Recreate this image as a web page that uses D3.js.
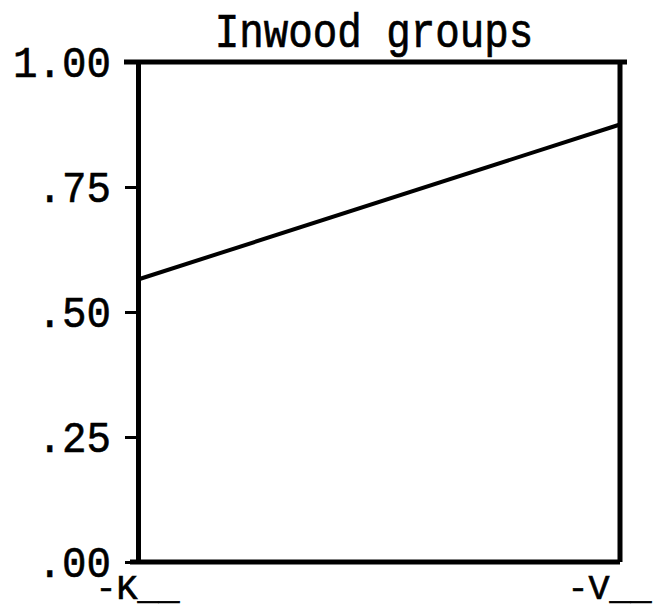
<!DOCTYPE html>
<html>
<head>
<meta charset="utf-8">
<script src="https://cdn.jsdelivr.net/npm/d3@7"></script>
<style>
  html, body { margin: 0; padding: 0; background: #fff; }
  svg { display: block; }
  text { font-family: "Liberation Mono", "DejaVu Sans Mono", monospace; fill: #000; }
</style>
</head>
<body>
<svg id="chart" width="653" height="609"></svg>
<script>
// ---- data ----
const titleText = "Inwood groups";
const categories = ["-K", "-V"];
const values = [0.565, 0.875];
const yTickValues = [0, 0.25, 0.5, 0.75, 1.0];
const yTickLabels = [".00", ".25", ".50", ".75", "1.00"];
const xLabelSuffix = "__";

// ---- layout ----
const W = 653, H = 609;
const mLeft = 138, mRight = 620, mTop = 62, mBottom = 562;

const svg = d3.select("#chart");

const x = d3.scalePoint().domain(categories).range([mLeft, mRight]);
const y = d3.scaleLinear().domain([0, 1]).range([mBottom, mTop]);

// title
svg.append("text")
  .attr("x", (215 + 533) / 2)
  .attr("y", 47)
  .attr("text-anchor", "middle")
  .attr("font-size", 48)
  .attr("textLength", titleText.length * 24.5)
  .attr("lengthAdjust", "spacingAndGlyphs")
  .attr("stroke", "#000").attr("stroke-width", 0.7)
  .text(titleText);

// y axis
const yAxis = d3.axisLeft(y)
  .tickValues(yTickValues)
  .tickFormat((d, i) => yTickLabels[i])
  .tickSize(13)
  .tickSizeOuter(0)
  .tickPadding(14);

const gy = svg.append("g")
  .attr("transform", `translate(${mLeft},0)`)
  .call(yAxis);
gy.select(".domain").attr("stroke", "#000").attr("stroke-width", 5);
gy.selectAll(".tick line").attr("stroke", "#000").attr("stroke-width", 3);
gy.selectAll(".tick text")
  .attr("font-size", 44)
  .attr("font-family", "Liberation Mono, DejaVu Sans Mono, monospace")
  .attr("textLength", (d, i) => yTickLabels[i].length * 24.5)
  .attr("lengthAdjust", "spacingAndGlyphs")
  .attr("stroke", "#000").attr("stroke-width", 0.6)
  .attr("dy", "0.34em");

// x axis (labels only)
const xAxis = d3.axisBottom(x).tickSize(0).tickSizeOuter(0).tickFormat(d => d + xLabelSuffix);
const gx = svg.append("g")
  .attr("transform", `translate(0,${mBottom})`)
  .call(xAxis);
gx.select(".domain").remove();
const nCat = categories.length;
gx.selectAll(".tick text")
  .attr("font-size", 35)
  .attr("font-family", "Liberation Mono, DejaVu Sans Mono, monospace")
  .attr("text-anchor", (d, i) => i === nCat - 1 ? "end" : "start")
  .attr("x", (d, i) => i === nCat - 1 ? (W - 2) - x(d) : -43)
  .attr("y", 37)
  .attr("dy", 0)
  .attr("stroke", "#000").attr("stroke-width", 0.7);

// frame: top, bottom, right
const frame = svg.append("g").attr("stroke", "#000").attr("stroke-width", 5).attr("fill", "none");
frame.append("line").attr("x1", mLeft - 14).attr("x2", mRight + 7).attr("y1", y(1)).attr("y2", y(1));
frame.append("line").attr("x1", mLeft - 8).attr("x2", mRight).attr("y1", y(0)).attr("y2", y(0));
frame.append("line").attr("x1", mRight).attr("x2", mRight).attr("y1", y(1)).attr("y2", y(0));

// data line
const line = d3.line().x((d, i) => x(categories[i])).y(d => y(d));
svg.append("path")
  .datum(values)
  .attr("d", line)
  .attr("fill", "none")
  .attr("stroke", "#000")
  .attr("stroke-width", 4);
</script>
</body>
</html>
